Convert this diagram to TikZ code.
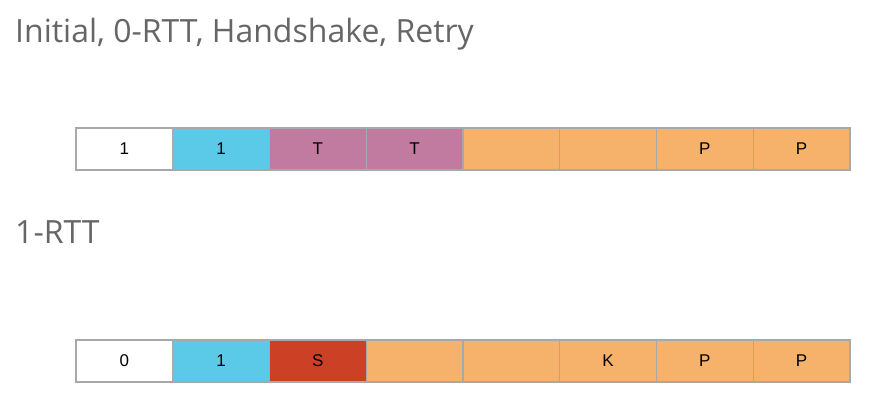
\documentclass[tikz,border=0pt]{standalone}
\usepackage{fontspec}
\usetikzlibrary{positioning}
\newfontfamily\titlefont{Open Sans}
\newfontfamily\cellfont{Liberation Sans}
\definecolor{titlegray}{HTML}{666666}
\definecolor{cellborder}{HTML}{A8A8A8}
\definecolor{cellblue}{HTML}{5BC9E8}
\definecolor{cellmauve}{HTML}{C27BA0}
\definecolor{cellorange}{HTML}{F6B26B}
\definecolor{cellred}{HTML}{CC4125}

\begin{document}
\begin{tikzpicture}
[x=1pt,y=-1pt,
cell/.style={draw=cellborder,line width=1.2pt,minimum width=96.75pt,minimum height=42pt,
  inner sep=0pt,outer sep=0pt,font=\cellfont\fontsize{17}{20}\selectfont},
title/.style={anchor=base west,inner sep=0pt,text=titlegray,font=\titlefont\fontsize{32}{38}\selectfont}]
\useasboundingbox (0,0) rectangle (879,416);
%%
% headings
%%
\node[title] (hlong) at (15,42) {Initial, 0-RTT, Handshake, Retry};
\node[title] (hshort) at (15,243) {1-RTT};
%%
% long header
%%
\foreach \c/\t [count=\i] in {white/1,cellblue/1,cellmauve/T,cellmauve/T,
  cellorange/,cellorange/,cellorange/P,cellorange/P}
  \node[cell,fill=\c] (long\i) at ({76+(\i-.5)*96.75},149) {\t};
%%
% short header
%%
\foreach \c/\t [count=\i] in {white/0,cellblue/1,cellred/S,cellorange/,
  cellorange/,cellorange/K,cellorange/P,cellorange/P}
  \node[cell,fill=\c] (short\i) at ({76+(\i-.5)*96.75},361) {\t};
\end{tikzpicture}
\end{document}
